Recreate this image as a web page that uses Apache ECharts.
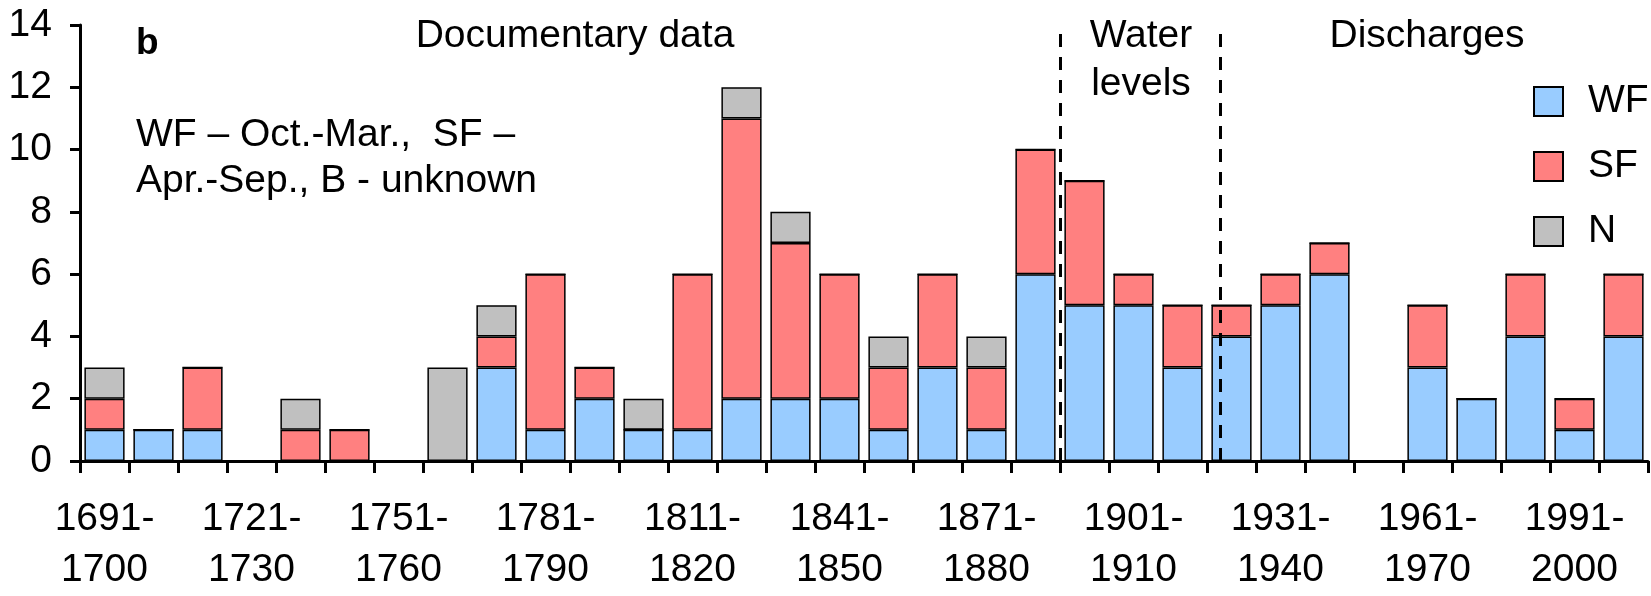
<!DOCTYPE html>
<html>
<head>
<meta charset="utf-8">
<script src="https://cdn.jsdelivr.net/npm/echarts@6/dist/echarts.min.js"></script>
<style>
html,body{margin:0;padding:0;background:#fff;}
#chart{width:1651px;height:596px;}
</style>
</head>
<body>
<div id="chart"></div>
<script>
const categories = ['1691-\n1700','1701-\n1710','1711-\n1720','1721-\n1730','1731-\n1740','1741-\n1750','1751-\n1760','1761-\n1770','1771-\n1780','1781-\n1790','1791-\n1800','1801-\n1810','1811-\n1820','1821-\n1830','1831-\n1840','1841-\n1850','1851-\n1860','1861-\n1870','1871-\n1880','1881-\n1890','1891-\n1900','1901-\n1910','1911-\n1920','1921-\n1930','1931-\n1940','1941-\n1950','1951-\n1960','1961-\n1970','1971-\n1980','1981-\n1990','1991-\n2000','2001-\n2010'];
const WF = [1,1,1,0,0,0,0,0,3,1,2,1,1,2,2,2,1,3,1,6,5,5,3,4,5,6,0,3,2,4,1,4];
const SF = [1,0,2,0,1,1,0,0,1,5,1,0,5,9,5,4,2,3,2,4,4,1,2,1,1,1,0,2,0,2,1,2];
const N  = [1,0,0,0,1,0,0,3,1,0,0,1,0,1,1,0,1,0,1,0,0,0,0,0,0,0,0,0,0,0,0,0];
const yTicks = [0,2,4,6,8,10,12,14];
const dividerPositions = [20, 23.27];
const sectionLabels = ['Documentary data', 'Water\nlevels', 'Discharges'];
const noteText = 'WF \u2013 Oct.-Mar.,  SF \u2013\nApr.-Sep., B - unknown';
const panelLetter = 'b';

const FONT = "'Liberation Sans', Arial, sans-serif";
const FS = 39;
const chart = echarts.init(document.getElementById('chart'));

const barStyle = (c) => ({ color: c, borderColor: '#000', borderWidth: 1.5 });

const option = {
  animation: false,
  textStyle: { fontFamily: FONT, color: '#000' },
  grid: { left: 80, right: 3, top: 25, bottom: 131, containLabel: false },
  legend: {
    orient: 'vertical', left: 1533, top: 82, padding: 0,
    itemWidth: 29, itemHeight: 29, itemGap: 26,
    icon: 'rect',
    textStyle: { fontSize: FS, fontFamily: FONT, color: '#000', padding: [0,0,0,20] },
    data: ['WF','SF','N']
  },
  xAxis: [{
    type: 'category', data: categories,
    axisLine: { lineStyle: { color: '#000', width: 3 } },
    axisTick: { show: true, interval: 0, length: 12, lineStyle: { color: '#000', width: 3 } },
    axisLabel: { interval: 2, fontSize: FS, lineHeight: 51, color: '#000', margin: 33, fontFamily: FONT },
    splitLine: { show: false }
  }, {
    type: 'value', min: 0, max: 32, show: false
  }],
  yAxis: {
    type: 'value', min: yTicks[0], max: yTicks[yTicks.length-1], interval: 2,
    axisLine: { show: true, lineStyle: { color: '#000', width: 3 } },
    axisTick: { show: true, length: 10, lineStyle: { color: '#000', width: 3 } },
    axisLabel: { fontSize: FS, color: '#000', margin: 28, fontFamily: FONT },
    splitLine: { show: false }
  },
  series: [
    { name: 'WF', type: 'bar', stack: 't', data: WF, barCategoryGap: '18%', itemStyle: barStyle('#99CCFF') },
    { name: 'SF', type: 'bar', stack: 't', data: SF, itemStyle: barStyle('#FF8080') },
    { name: 'N', type: 'bar', stack: 't', data: N, itemStyle: barStyle('#C0C0C0') },
    { name: 'div', type: 'line', xAxisIndex: 1, data: [], silent: true,
      markLine: {
        silent: true, symbol: 'none', label: { show: false },
        lineStyle: { color: '#000', width: 3, type: [13, 10] },
        data: dividerPositions.map(p => [{ coord: [p, 0] }, { coord: [p, 13.85] }])
      }
    }
  ],
  graphic: [
    { type: 'text', left: 136, top: 25, style: { text: panelLetter, font: 'bold 37px ' + FONT, fill: '#000' } },
    { type: 'text', x: 575, y: 36, style: { text: sectionLabels[0], font: FS + 'px ' + FONT, fill: '#000', textAlign: 'center', textVerticalAlign: 'middle' } },
    { type: 'text', x: 1141, y: 60, style: { text: sectionLabels[1], font: FS + 'px ' + FONT, fill: '#000', textAlign: 'center', textVerticalAlign: 'middle', lineHeight: 48 } },
    { type: 'text', x: 1427, y: 36, style: { text: sectionLabels[2], font: FS + 'px ' + FONT, fill: '#000', textAlign: 'center', textVerticalAlign: 'middle' } },
    { type: 'text', x: 136, y: 158, style: { text: noteText, font: FS + 'px ' + FONT, fill: '#000', textAlign: 'left', textVerticalAlign: 'middle', lineHeight: 46 } }
  ]
};
chart.setOption(option);
</script>
</body>
</html>
